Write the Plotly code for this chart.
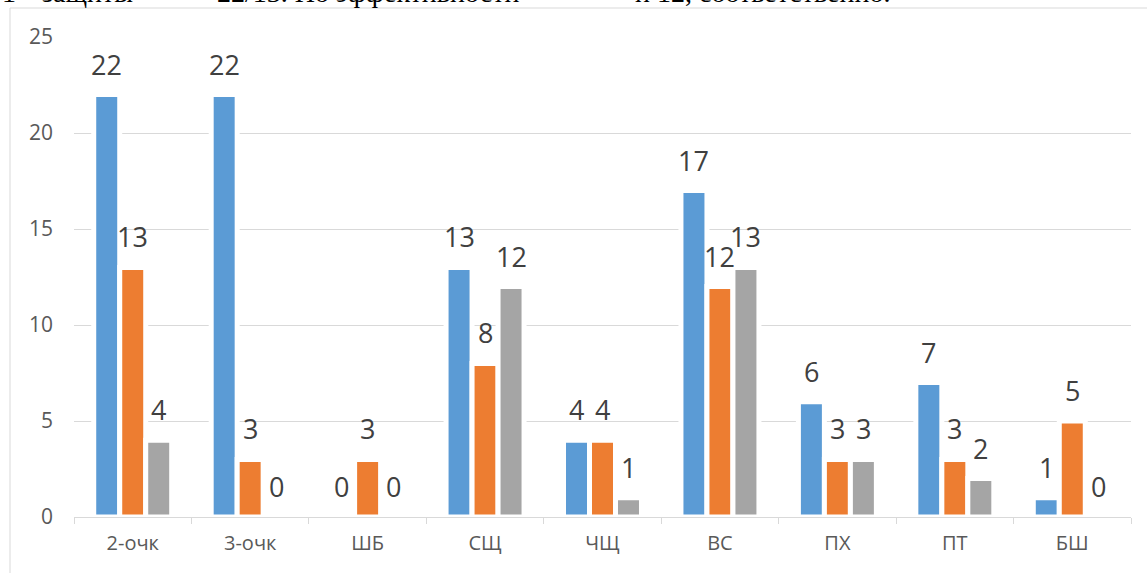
import plotly.graph_objects as go

categories = ["2-очк", "3-очк", "ШБ", "СЩ", "ЧЩ", "ВС", "ПХ", "ПТ", "БШ"]
series_1 = [22, 22, 0, 13, 4, 17, 6, 7, 1]
series_2 = [13, 3, 3, 8, 4, 12, 3, 3, 5]
series_3 = [4, 0, 0, 12, 1, 13, 3, 2, 0]
series_names = ["Ряд 1", "Ряд 2", "Ряд 3"]
colors = ["#5B9BD5", "#ED7D31", "#A5A5A5"]
y_ticks = [0, 5, 10, 15, 20, 25]

W, H = 1147, 573
ML, MR, MT, MB = 74, 16, 37, 56
plot_w = W - ML - MR
plot_h = H - MT - MB

fig = go.Figure()
all_series = [series_1, series_2, series_3]
for name, vals, col in zip(series_names, all_series, colors):
    fig.add_trace(go.Bar(
        x=categories, y=vals, name=name,
        marker=dict(color=col,
                    line=dict(color="white", width=[5 if v > 0 else 0 for v in vals])),
        showlegend=False,
    ))

bargap = 0.336
bar_px = plot_w / len(categories) * (1 - bargap) / 3
annotations = []
for i, vals in enumerate(all_series):
    for c, v in zip(categories, vals):
        annotations.append(dict(
            x=c, y=v, xref="x", yref="y", text=str(v), showarrow=False,
            xanchor="center", yanchor="bottom",
            xshift=(i - 1) * bar_px, yshift=10,
            font=dict(family="Open Sans", size=27, color="#404040"),
        ))

# cropped document text at the very top
top_text = [("1", 0), ("защиты", 40), ("22/13. По эффективности", 215), ("и 12, соответственно.", 633)]
for t, px in top_text:
    annotations.append(dict(
        x=(px - ML) / plot_w, y=1 + (MT - 10) / plot_h, xref="paper", yref="paper",
        text=t, showarrow=False, xanchor="left", yanchor="bottom",
        font=dict(family="Liberation Serif", size=28, color="#000000"),
    ))

fig.add_shape(type="rect", xref="paper", yref="paper",
              x0=(10 - ML) / plot_w, x1=1.2,
              y0=-0.3, y1=1 + (MT - 8) / plot_h,
              line=dict(color="#D9D9D9", width=1), fillcolor="rgba(0,0,0,0)", layer="below")

fig.update_layout(
    width=W, height=H,
    margin=dict(l=ML, r=MR, t=MT, b=MB),
    paper_bgcolor="white", plot_bgcolor="white",
    barmode="group", bargap=bargap, bargroupgap=0,
    annotations=annotations,
    font=dict(family="Open Sans", color="#595959"),
)
fig.update_xaxes(
    type="category", showline=True, linecolor="#D9D9D9", linewidth=1,
    ticks="outside", tickson="boundaries", ticklen=6, tickcolor="#D9D9D9",
    showgrid=False, tickfont=dict(size=20, color="#595959"), ticklabelstandoff=8,
)
fig.update_yaxes(
    range=[0, 25], tickvals=y_ticks, showgrid=True, gridcolor="#D9D9D9", gridwidth=1,
    zeroline=False, showline=False, ticks="",
    tickfont=dict(size=21, color="#595959"), ticklabelstandoff=20,
)

fig.write_html("out.html", config={"displayModeBar": False},
               post_script="document.body.style.margin='0';")
